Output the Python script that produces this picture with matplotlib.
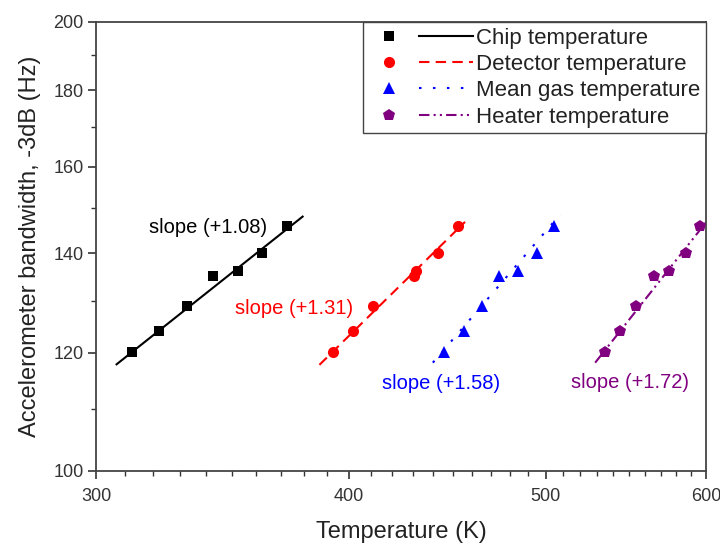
import matplotlib
matplotlib.use("Agg")
import matplotlib.pyplot as plt
from matplotlib.lines import Line2D
from matplotlib.legend_handler import HandlerBase
from matplotlib.ticker import FixedLocator, NullFormatter

plt.rcParams['font.family'] = ['Liberation Sans', 'DejaVu Sans']

# ---- data ----
bandwidth = [120.1, 124.1, 129.0, 135.1, 136.2, 140.0, 146.0]
chip_T = [312.6, 322.4, 332.6, 342.5, 352.4, 362.2, 372.6]
detector_T = [392.8, 401.6, 411.1, 430.5, 431.5, 442.6, 452.8]
gas_T = [445.7, 455.8, 465.0, 474.5, 484.8, 495.0, 504.8]
heater_T = [535.0, 544.0, 553.9, 565.6, 575.6, 586.3, 596.1]

# fitted lines (end points)
chip_fit_x, chip_fit_y = [307.1, 379.4], [117.9, 148.1]
det_fit_x, det_fit_y = [386.7, 456.3], [117.8, 146.9]
gas_fit_x, gas_fit_y = [439.9, 508.4], [118.2, 148.6]
heat_fit_x, heat_fit_y = [529.0, 600.0], [118.2, 146.8]

labels = ["Chip temperature", "Detector temperature",
          "Mean gas temperature", "Heater temperature"]
slope_texts = ["slope (+1.08)", "slope (+1.31)", "slope (+1.58)", "slope (+1.72)"]
slope_pos = [(318.6, 145.7), (351.3, 128.6), (415.2, 114.4), (514.7, 114.7)]

x_major = [300, 400, 500, 600]
x_minor = [310, 320, 330, 340, 350, 360, 370, 380, 390,
           410, 420, 430, 440, 450, 460, 470, 480, 490,
           510, 520, 530, 540, 550, 560, 570, 580, 590]
y_major = [100, 120, 140, 160, 180, 200]
y_minor = [110, 130, 150, 170, 190]

colors = ["#000000", "#FF0000", "#0000FF", "#800080"]
markers = ["s", "o", "^", "p"]
msizes = [7.5, 8.0, 9.0, 9.0]
styles = ["-", (0, (5, 3)), (0, (1.2, 5.5)), (0, (5, 2, 1, 2, 1, 2))]

fig = plt.figure(figsize=(7.2, 5.44), dpi=100)
ax = fig.add_axes([0.1333, 0.1342, 0.8473, 0.8254])
ax.set_xscale('log')
ax.set_yscale('log')

series_T = [chip_T, detector_T, gas_T, heater_T]
fits = [(chip_fit_x, chip_fit_y), (det_fit_x, det_fit_y),
        (gas_fit_x, gas_fit_y), (heat_fit_x, heat_fit_y)]

handles = []
for T, (fx, fy), c, m, ms, ls, lab in zip(series_T, fits, colors, markers,
                                          msizes, styles, labels):
    ax.plot(fx, fy, color=c, linestyle=ls, lw=1.5, zorder=2)
    ax.plot(T, bandwidth, linestyle='none', marker=m, color=c, markersize=ms,
            markeredgewidth=0, zorder=3)
    mk = Line2D([], [], linestyle='none', marker=m, color=c, markersize=ms,
                markeredgewidth=0)
    ln = Line2D([], [], color=c, linestyle=ls, lw=1.5)
    handles.append((mk, ln))

for (tx, ty), txt, c in zip(slope_pos, slope_texts, colors):
    ax.text(tx, ty, txt, color=c, fontsize=14.5, ha='left', va='center')


class SplitHandler(HandlerBase):
    def create_artists(self, legend, orig_handle, xdescent, ydescent,
                       width, height, fontsize, trans):
        mk, ln = orig_handle
        y = height / 2.0 - ydescent
        x0 = -xdescent
        m = Line2D([x0 + 0.2 * width], [y])
        m.update_from(mk)
        l = Line2D([x0 + 0.48 * width, x0 + width], [y, y])
        l.update_from(ln)
        for a in (m, l):
            a.set_transform(trans)
        return [m, l]


leg = ax.legend(handles, labels, handler_map={tuple: SplitHandler()},
                loc='upper right', borderaxespad=0, fontsize=16,
                handlelength=4.7, handletextpad=0.15, borderpad=0.25,
                labelspacing=0.24, fancybox=False, framealpha=1,
                edgecolor='#444444')
leg.get_frame().set_linewidth(1.0)
for t in leg.get_texts():
    t.set_color('#222222')

ax.set_xlim(300, 600)
ax.set_ylim(100, 200)
ax.xaxis.set_major_locator(FixedLocator(x_major))
ax.xaxis.set_minor_locator(FixedLocator(x_minor))
ax.yaxis.set_major_locator(FixedLocator(y_major))
ax.yaxis.set_minor_locator(FixedLocator(y_minor))
ax.set_xticklabels([str(v) for v in x_major])
ax.set_yticklabels([str(v) for v in y_major])
ax.xaxis.set_minor_formatter(NullFormatter())
ax.yaxis.set_minor_formatter(NullFormatter())

ax.tick_params(which='major', direction='out', length=6, width=1.2,
               labelsize=13, colors='#333333', labelcolor='#333333', pad=3)
ax.tick_params(axis='x', which='major', pad=6)
ax.tick_params(which='minor', direction='out', length=3.5, width=1.0,
               colors='#333333')
for s in ax.spines.values():
    s.set_linewidth(1.3)
    s.set_color('#444444')

ax.set_xlabel("Temperature (K)", fontsize=17, color='#222222', labelpad=12)
ax.set_ylabel("Accelerometer bandwidth, -3dB (Hz)", fontsize=17,
              color='#222222', labelpad=9)

fig.savefig("out.png", dpi=100)
